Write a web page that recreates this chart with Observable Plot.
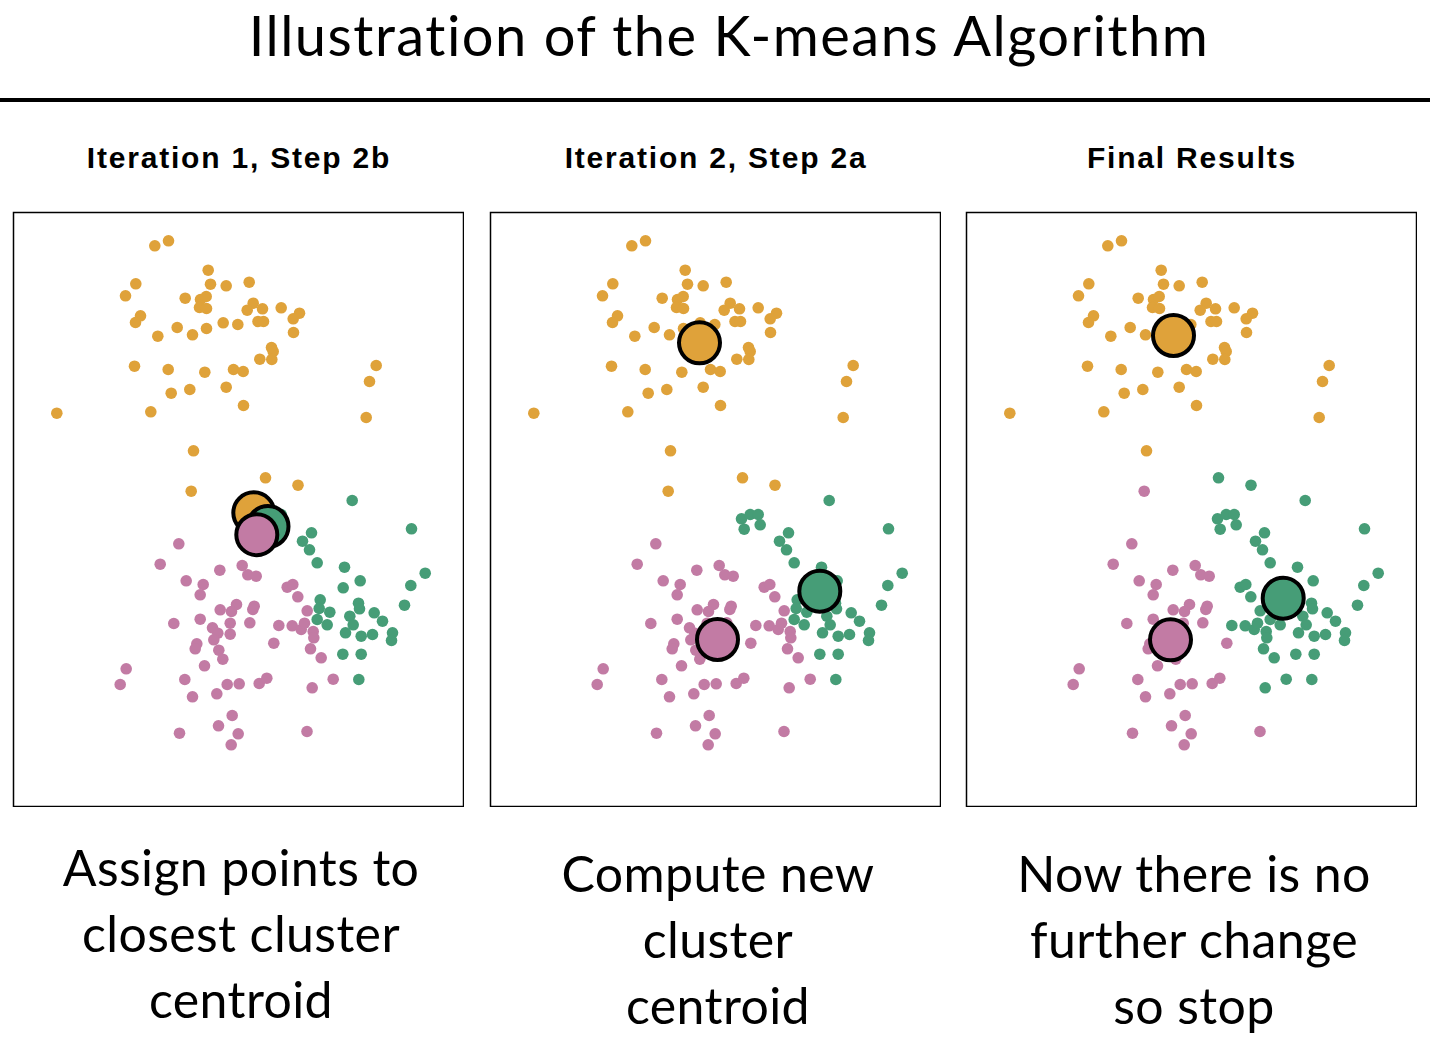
<!DOCTYPE html>
<html>
<head>
<meta charset="utf-8">
<script src="https://cdn.jsdelivr.net/npm/d3@7"></script>
<script src="https://cdn.jsdelivr.net/npm/@observablehq/plot@0.6"></script>
<style>
  html, body { margin: 0; padding: 0; background: #fff; }
  #page { position: relative; width: 1430px; height: 1048px; overflow: hidden; background: #fff; }
  .title { position: absolute; left: 0; width: 1458px; top: 7px; text-align: center;
           font-family: Lato, "Open Sans", sans-serif; font-size: 56px; line-height: 1;
           letter-spacing: 1.5px; color: #000; }
  .rule { position: absolute; left: 0; top: 98px; width: 1430px; height: 4px; background: #000; }
  .sub { position: absolute; width: 450px; text-align: center; top: 143px;
         font-family: "Liberation Sans", Arial, Helvetica, sans-serif; font-weight: 700;
         font-size: 30px; line-height: 1; letter-spacing: 1.8px; color: #000; }
  .panel { position: absolute; top: 211px; }
  .cap { position: absolute; width: 450px; text-align: center;
         font-family: Lato, "Open Sans", sans-serif; font-size: 50px; line-height: 66px;
         letter-spacing: 0.4px; color: #000; }
</style>
</head>
<body>
<div id="page"></div>
<script>
// ---- Data (x, y in panel units, y up) ----
const titleText = "Illustration of the K-means Algorithm";
const panelTitles = ["Iteration 1, Step 2b", "Iteration 2, Step 2a", "Final Results"];
const panelCaptions = [
  ["Assign points to", "closest cluster", "centroid"],
  ["Compute new", "cluster", "centroid"],
  ["Now there is no", "further change", "so stop"]
];
const clusterNames = ["Cluster 1", "Cluster 2", "Cluster 3"];
const clusterColors = ["#DFA23A", "#469D77", "#C27BA4"];

// points in cluster 1 (orange) in iteration 1 and in the final result
const orangeStay = [
  [141.3,560.7],[155,565.7],[194.7,536.3],[122.3,522.7],[197,522.3],[212.7,520.7],[235.7,524.3],
  [112,510.7],[171.7,508.3],[187,507],[192.7,510],[186,499],[193,498],[239.7,503.3],[233.7,496.3],
  [249,497.7],[267.7,498.7],[286,493.3],[279.7,487.7],[127,490.7],[122,484],[163.7,479],[193,478],
  [209.7,483.7],[224.3,482],[244.5,485],[250,485],[144.3,470.3],[179,471.7],[280,474],[258,459],
  [259.7,455],[258.3,447],[246.3,447.3],[121,440.3],[154.7,437],[191.3,434.3],[220,437],[229.7,435],
  [157.7,413.3],[176.3,417],[212.7,419.3],[230,401],[137.3,394.7],[43.3,393.3],[362.7,441],[356,425],
  [352.7,389],[180,355.7]
];
// orange in iteration 1, pink in the final result
const orangeToPink = [[177.7,315.3]];
// orange in iteration 1, green in the final result
const orangeToGreen = [[252,328.7],[284.5,321.3]];
// green throughout
const greenStay = [
  [251,287.7],[259.7,292],[267.7,292],[253.7,277.3],[269.7,281.7],
  [338.7,306],[398,277.7],[298,273.7],[289,265.3],[296,256.7],[303.7,243.7],[331,239.3],[346.7,225.7],
  [329.7,218.7],[411.7,233.3],[397.3,221],[391,201.3],[306.7,206.7],[305.7,198],[316.3,194.3],
  [303.7,187],[313.7,181.7],[345,203.3],[346,197.7],[336.3,190.3],[339.7,181.7],[360.7,193.7],
  [369,185.3],[332,173.7],[347.7,170.3],[359,172],[379,173.7],[378,166],[329.3,152.3],[347.7,152.3],
  [345.3,127]
];
// pink throughout
const pinkStay = [
  [165.3,262.7],[146.7,242.3],[206.3,236.3],[228.7,241],[234.3,231.7],[242.7,230.3],[172.7,225.7],
  [189.7,222],[186.7,211.7],[206.7,196.7],[223,202],[218,195],[240.7,200.3],[239.3,197],
  [160.3,183],[186.7,187.3],[199,178.7],[204.3,173.3],[216.7,183.3],[216.7,172.3],[236.3,183.7],
  [200.3,166.7],[183.3,162.7],[181.7,157.7],[205.3,156.3],[209.3,147.3],[260.3,163.3],
  [191,140.7],[112.7,137.7],[106.7,122],[171.3,127],[179,109.7],[203.3,112.7],[213.7,122],
  [225.7,122.7],[245.7,123],[253.3,128.3],
  [218.7,91],[205,80.7],[224.7,72.7],[217.7,61.7],[166,73.3],[293.5,75]
];
// pink in iteration 1, green in the final result
const pinkToGreen = [
  [273.7,219.3],[279.3,222],[284.3,209.7],[293.7,195.7],[265.3,181],[278.7,180.7],[287.7,177],
  [291,183.3],[299.7,175],[300.3,168.7],[297,157.7],[307.7,148.7],[319.7,127.3],[298.7,118.7]
];

// centroids per panel (order: cluster 1 orange, cluster 2 green, cluster 3 pink)
const centroidsIter1 = [[240.3,293.7],[254.5,280],[243.3,271.8]];
const centroidsIter2 = [[209,463.7],[329.3,215.3],[227,167]];
const centroidsFinal = [[207,471],[316.7,208.3],[204,166.7]];

// ---- Build tables ----
const [C1, C2, C3] = clusterNames;
const points = [];
for (const [pts, iter, fin] of [
  [orangeStay, C1, C1], [orangeToPink, C1, C3], [orangeToGreen, C1, C2],
  [greenStay, C2, C2], [pinkStay, C3, C3], [pinkToGreen, C3, C2]
]) for (const [x, y] of pts) points.push({x, y, iter, final: fin});

const toCentroids = arr => arr.map(([x, y], i) => ({x, y, cluster: clusterNames[i]}));
const panels = [
  {key: "iter", cents: toCentroids(centroidsIter1)},
  {key: "iter", cents: toCentroids(centroidsIter2)},
  {key: "final", cents: toCentroids(centroidsFinal)}
];
const panelLefts = [13, 490, 966];

const page = document.getElementById("page");
const t = document.createElement("div");
t.className = "title"; t.textContent = titleText;
page.appendChild(t);
const r = document.createElement("div"); r.className = "rule"; page.appendChild(r);

panels.forEach((p, i) => {
  const left = panelLefts[i];
  const s = document.createElement("div");
  s.className = "sub"; s.style.left = (left + 1) + "px"; s.textContent = panelTitles[i];
  page.appendChild(s);

  const chart = Plot.plot({
    width: 452, height: 596, margin: 1,
    style: {background: "transparent"},
    x: {domain: [0, 450], axis: null},
    y: {domain: [0, 594], axis: null},
    color: {type: "categorical", domain: clusterNames, range: clusterColors},
    marks: [
      Plot.dot(points, {x: "x", y: "y", r: 5.8, fill: p.key, stroke: null}),
      Plot.dot(p.cents, {x: "x", y: "y", r: 20.5, fill: "cluster", stroke: "#000", strokeWidth: 4}),
      Plot.frame({stroke: "#000", strokeWidth: 1.5})
    ]
  });
  const wrap = document.createElement("div");
  wrap.className = "panel"; wrap.style.left = (left - 1) + "px";
  wrap.appendChild(chart);
  page.appendChild(wrap);

  const c = document.createElement("div");
  c.className = "cap"; c.style.left = (left + 3) + "px";
  c.style.top = (i === 0 ? 834 : 840) + "px";
  c.innerHTML = panelCaptions[i].map(l => `<div>${l}</div>`).join("");
  page.appendChild(c);
});
</script>
</body>
</html>
